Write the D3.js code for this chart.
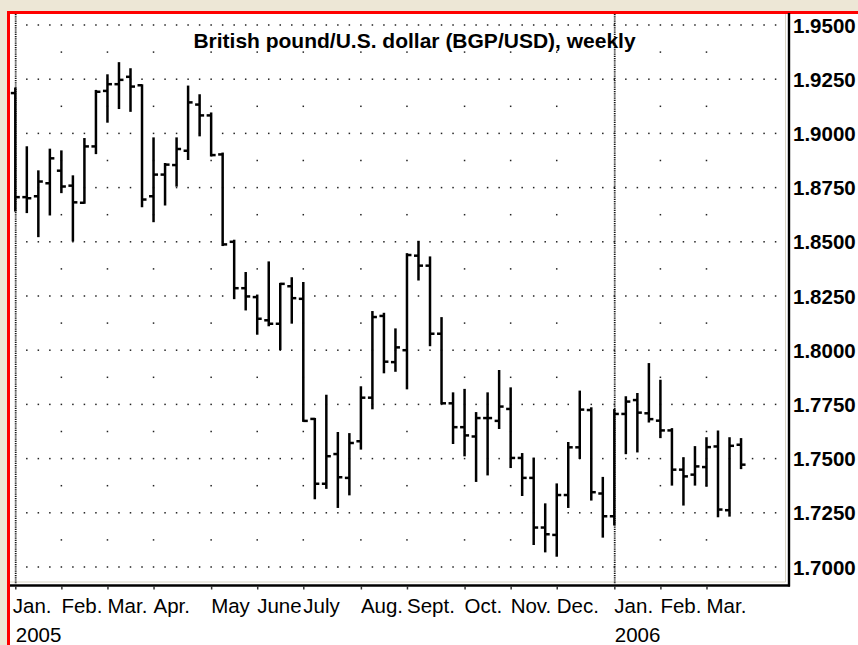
<!DOCTYPE html>
<html>
<head>
<meta charset="utf-8">
<script src="https://cdn.jsdelivr.net/npm/d3@7"></script>
<style>
  html, body { margin: 0; padding: 0; background: #ede7d6; }
  svg { display: block; }
</style>
</head>
<body>
<div id="visualization"></div>
<script>
// weekly OHLC, first week of Jan. 2005 = week 0
const opens = [1.9186, 1.8706, 1.8710, 1.8770, 1.8828, 1.8759, 1.8680, 1.8940, 1.9196, 1.9227,
  1.9261, 1.9222, 1.8710, 1.8810, 1.8854, 1.8920, 1.9133, 1.9083, 1.8903, 1.8500,
  1.8286, 1.8245, 1.8138, 1.8122, 1.8295, 1.8237, 1.7683, 1.7384, 1.7521, 1.7411,
  1.7580, 1.7781, 1.8158, 1.7945, 1.8000, 1.8436, 1.8390, 1.8076, 1.7755, 1.7645,
  1.7602, 1.7687, 1.7674, 1.7729, 1.7503, 1.7411, 1.7182, 1.7148, 1.7332, 1.7552,
  1.7724, 1.7339, 1.7234, 1.7706, 1.7770, 1.7709, 1.7675, 1.7630, 1.7449, 1.7426,
  1.7461, 1.7556, 1.7262, 1.7564];
const highs = [1.9207, 1.8936, 1.8825, 1.8925, 1.8917, 1.8802, 1.8974, 1.9196, 1.9268, 1.9324,
  1.9296, 1.9222, 1.8977, 1.8859, 1.8977, 1.9216, 1.9176, 1.9092, 1.8907, 1.8505,
  1.8356, 1.8252, 1.8405, 1.8306, 1.8332, 1.8310, 1.7683, 1.7790, 1.7618, 1.7613,
  1.7829, 1.8176, 1.8168, 1.8096, 1.8443, 1.8500, 1.8428, 1.8148, 1.7801, 1.7817,
  1.7710, 1.7801, 1.7904, 1.7824, 1.7521, 1.7500, 1.7289, 1.7381, 1.7572, 1.7809,
  1.7732, 1.7411, 1.7724, 1.7783, 1.7798, 1.7936, 1.7859, 1.7636, 1.7502, 1.7553,
  1.7594, 1.7625, 1.7594, 1.7590];
const lows = [1.8644, 1.8637, 1.8526, 1.8626, 1.8729, 1.8506, 1.8680, 1.8909, 1.9054, 1.9117,
  1.9104, 1.8664, 1.8595, 1.8672, 1.8759, 1.8882, 1.8991, 1.8898, 1.8485, 1.8240,
  1.8188, 1.8076, 1.8115, 1.8005, 1.8127, 1.7674, 1.7317, 1.7365, 1.7277, 1.7335,
  1.7546, 1.7732, 1.7898, 1.7905, 1.7824, 1.8326, 1.8023, 1.7755, 1.7572, 1.7515,
  1.7397, 1.7427, 1.7641, 1.7461, 1.7332, 1.7106, 1.7072, 1.7052, 1.7277, 1.7503,
  1.7311, 1.7140, 1.7196, 1.7525, 1.7533, 1.7671, 1.7599, 1.7380, 1.7288, 1.7380,
  1.7375, 1.7234, 1.7237, 1.7456];
const closes = [1.8706, 1.8701, 1.8778, 1.8885, 1.8755, 1.8682, 1.8940, 1.9192, 1.9227, 1.9247,
  1.9216, 1.8695, 1.8810, 1.8856, 1.8928, 1.9143, 1.9083, 1.8900, 1.8488, 1.8286,
  1.8248, 1.8145, 1.8122, 1.8306, 1.8240, 1.7674, 1.7384, 1.7511, 1.7414, 1.7572,
  1.7781, 1.8153, 1.7947, 1.8013, 1.8439, 1.8390, 1.8076, 1.7755, 1.7645, 1.7607,
  1.7687, 1.7687, 1.7740, 1.7503, 1.7411, 1.7182, 1.7151, 1.7332, 1.7552, 1.7726,
  1.7345, 1.7234, 1.7706, 1.7763, 1.7712, 1.7682, 1.7630, 1.7449, 1.7418, 1.7464,
  1.7553, 1.7265, 1.7559, 1.7472];

const monthLabels = ['Jan.', 'Feb.', 'Mar.', 'Apr.', 'May', 'June', 'July', 'Aug.', 'Sept.', 'Oct.', 'Nov.', 'Dec.', 'Jan.', 'Feb.', 'Mar.'];
const monthWeeks = [0, 4, 8, 12, 17, 21, 25, 30, 34, 39, 43, 47, 52, 56, 60];
const yearLabels = ['2005', '2006'];
const yearWeeks = [0, 52];
const priceTicks = [1.70, 1.725, 1.75, 1.775, 1.80, 1.825, 1.85, 1.875, 1.90, 1.925, 1.95];
const halfTicks = [1.7125, 1.7375, 1.7625, 1.7875, 1.8125, 1.8375, 1.8625, 1.8875, 1.9125, 1.9375];
const title = 'British pound/U.S. dollar (BGP/USD), weekly';

const viz = {
  width: 858,
  height: 645,
  font: '"Liberation Sans", Arial, Helvetica, sans-serif',

  init() {
    this.svg = d3.select('#visualization').append('svg')
      .attr('width', this.width)
      .attr('height', this.height);

    this.x = d3.scaleLinear().domain([0, 66]).range([15.3, 775.6]);
    this.y = d3.scaleLinear().domain([1.70, 1.95]).range([567, 25]);

    this.drawFrame();
    this.drawGrid();
    this.drawBars();
    this.drawAxes();
    this.drawTitle();
  },

  drawFrame() {
    this.svg.append('rect')
      .attr('width', this.width).attr('height', this.height)
      .attr('fill', '#ede7d6');
    this.svg.append('rect')
      .attr('x', 8.5).attr('y', 12.5)
      .attr('width', 900).attr('height', 700)
      .attr('fill', '#fff')
      .attr('stroke', '#ff0000')
      .attr('stroke-width', 3);
    // faint inner bevel of the plot box
    this.svg.append('path')
      .attr('d', 'M10,582 H785.5 V14')
      .attr('fill', 'none')
      .attr('stroke', '#d9d5c6')
      .attr('stroke-width', 1);
  },

  drawGrid() {
    const weeks = d3.range(1, 67);
    const g = this.svg.append('g').attr('fill', '#222');

    for (const p of priceTicks) {
      g.selectAll(null).data(weeks).join('rect')
        .attr('x', (d) => this.x(d) - 0.75)
        .attr('y', this.y(p) - 0.75)
        .attr('width', 1.5).attr('height', 1.5);
    }
    for (const p of halfTicks) {
      g.selectAll(null).data(monthWeeks.filter((w) => yearWeeks.indexOf(w) < 0)).join('rect')
        .attr('x', (d) => this.x(d) - 0.75)
        .attr('y', this.y(p) - 0.75)
        .attr('width', 1.5).attr('height', 1.5);
    }

    // dotted year separators
    this.svg.append('g').selectAll('line').data(yearWeeks).join('line')
      .attr('x1', (d) => this.x(d) + 0.4).attr('x2', (d) => this.x(d) + 0.4)
      .attr('y1', 14).attr('y2', 584)
      .attr('stroke', '#111')
      .attr('stroke-width', 1.8)
      .attr('stroke-dasharray', '1.2,1');
  },

  drawBars() {
    const bars = opens.map((o, i) => ({ i, o, h: highs[i], l: lows[i], c: closes[i] }));
    const g = this.svg.append('g')
      .attr('stroke', '#000')
      .attr('stroke-width', 2.5)
      .attr('fill', 'none');

    const bar = g.selectAll('g').data(bars).join('g')
      .attr('transform', (d) => `translate(${this.x(d.i)},0)`);

    bar.append('line')
      .attr('y1', (d) => this.y(d.h) - 1)
      .attr('y2', (d) => this.y(d.l) + 1);
    bar.append('line')
      .attr('x1', -4.5).attr('x2', 0)
      .attr('y1', (d) => this.y(d.o)).attr('y2', (d) => this.y(d.o));
    bar.append('line')
      .attr('x1', 0).attr('x2', 4.5)
      .attr('y1', (d) => this.y(d.c)).attr('y2', (d) => this.y(d.c));
  },

  drawAxes() {
    // bottom axis line and month ticks
    this.svg.append('line')
      .attr('x1', 10).attr('x2', 790)
      .attr('y1', 585.5).attr('y2', 585.5)
      .attr('stroke', '#000').attr('stroke-width', 2.4);

    const xAxis = d3.axisBottom(this.x)
      .tickValues(monthWeeks)
      .tickSize(3.5)
      .tickFormat((d, i) => monthLabels[i]);

    const gx = this.svg.append('g')
      .attr('transform', 'translate(0,586)')
      .call(xAxis);
    gx.select('.domain').remove();
    gx.selectAll('.tick line').attr('stroke', '#333').attr('stroke-width', 1.5);
    gx.selectAll('.tick text')
      .attr('y', 27).attr('dy', 0)
      .attr('x', (d, i) => (i === 0 ? -3 : -0.5))
      .attr('text-anchor', 'start')
      .attr('fill', '#000')
      .style('font-family', this.font)
      .style('font-size', '20.5px');

    this.svg.append('g').selectAll('text').data(yearLabels).join('text')
      .attr('x', (d, i) => this.x(yearWeeks[i]) + 0.5)
      .attr('y', 641.5)
      .attr('fill', '#000')
      .style('font-family', this.font)
      .style('font-size', '20.5px')
      .text((d) => d);

    // right price axis
    this.svg.append('line')
      .attr('x1', 789).attr('x2', 789)
      .attr('y1', 13).attr('y2', 586.5)
      .attr('stroke', '#000').attr('stroke-width', 2.4);

    const yAxis = d3.axisRight(this.y)
      .tickValues(priceTicks)
      .tickSize(0)
      .tickPadding(4)
      .tickFormat(d3.format('.4f'));

    const gy = this.svg.append('g')
      .attr('transform', 'translate(789,0)')
      .call(yAxis);
    gy.select('.domain').remove();
    gy.selectAll('.tick text')
      .attr('dy', '0.35em')
      .attr('fill', '#000')
      .style('font-family', this.font)
      .style('font-size', '20.5px')
      .style('font-weight', 'bold');
  },

  drawTitle() {
    this.svg.append('text')
      .attr('x', 414.5)
      .attr('y', 48)
      .attr('text-anchor', 'middle')
      .attr('fill', '#000')
      .style('font-family', this.font)
      .style('font-size', '21px')
      .style('font-weight', 'bold')
      .text(title);
  }
};

viz.init();
</script>
</body>
</html>
